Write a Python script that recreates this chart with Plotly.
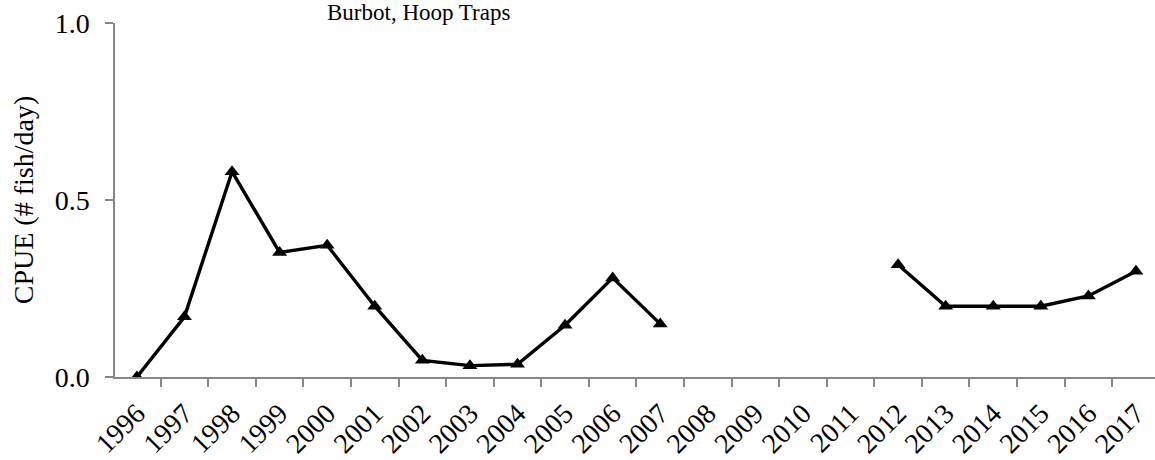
import plotly.graph_objects as go

years = [str(y) for y in range(1996, 2018)]
cpue = [0.0, 0.17, 0.58, 0.352, 0.372, 0.2, 0.047, 0.032, 0.036, 0.146, 0.28, 0.15,
        None, None, None, None,
        0.317, 0.2, 0.2, 0.2, 0.229, 0.299]
title_text = "Burbot, Hoop Traps"
y_title = "CPUE (# fish/day)"
y_ticks = [0.0, 0.5, 1.0]

FONT = "Liberation Serif"
AX = "#878787"

fig = go.Figure()
fig.add_trace(go.Scatter(
    x=years, y=cpue, mode="lines+markers",
    line=dict(color="black", width=3.4),
    marker=dict(symbol="triangle-up", size=13, color="black"),
    connectgaps=False, showlegend=False,
))

fig.update_layout(
    width=1155, height=460,
    margin=dict(l=115, r=0, t=23, b=83),
    plot_bgcolor="white", paper_bgcolor="white",
    font=dict(family=FONT, color="black"),
    annotations=[dict(
        text=title_text, xref="paper", yref="paper",
        x=0.292, y=1.03, xanchor="center", yanchor="middle",
        showarrow=False, font=dict(family=FONT, size=23, color="black"),
    )],
)
fig.update_xaxes(
    type="category", range=[-0.46, 21.4], automargin=False,
    tickson="boundaries", ticks="outside", ticklen=8, tickcolor=AX, tickwidth=1.5,
    showline=True, linecolor=AX, linewidth=1.5,
    showgrid=False, zeroline=False,
    tickangle=-45, tickfont=dict(family=FONT, size=28, color="black"),
    ticklabelstandoff=7, ticklabeloverflow="allow",
)
fig.update_yaxes(
    range=[0, 1], tickvals=y_ticks, tickformat=".1f", automargin=False,
    ticks="outside", ticklen=8, tickcolor=AX, tickwidth=1.5,
    showline=True, linecolor=AX, linewidth=1.5,
    showgrid=False, zeroline=False,
    tickfont=dict(family=FONT, size=28, color="black"),
    ticklabelstandoff=10, ticklabeloverflow="allow",
    title=dict(text=y_title, font=dict(family=FONT, size=28, color="black"), standoff=13),
)

fig.write_html("out.html", config={"displayModeBar": False},
               post_script="document.body.style.margin='0';")
